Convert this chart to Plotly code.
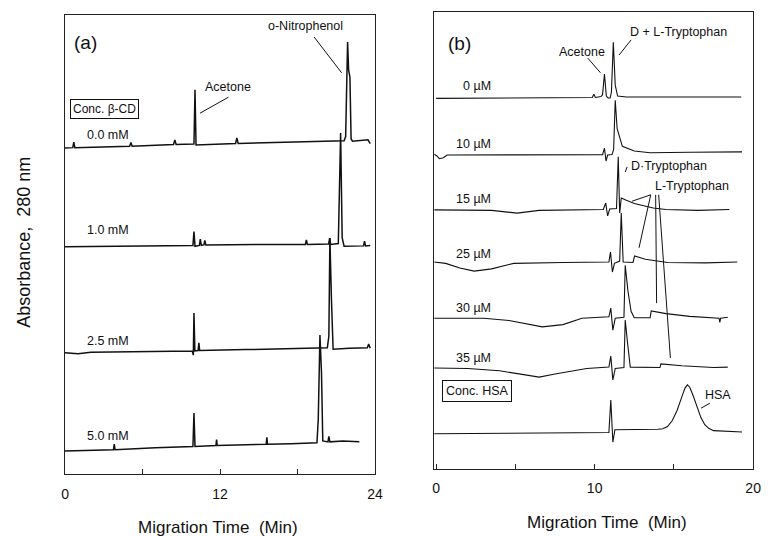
import plotly.graph_objects as go

# ---------------- Panel (a): beta-CD concentration series ----------------
a_labels = ["0.0 mM", "1.0 mM", "2.5 mM", "5.0 mM"]
a_label_y = [73.9, 53.2, 29.0, 8.3]

a_t_00 = [0.0, 0.6, 0.68, 0.76, 5.0, 5.1, 5.2, 8.4, 8.5, 8.6, 9.98, 10.06, 10.14, 13.2, 13.3, 13.4,
          21.6, 21.72, 21.87, 21.95, 22.05, 22.14, 22.25, 23.45, 23.62]
a_y_00 = [71.0, 71.1, 72.3, 71.1, 71.4, 72.2, 71.4, 71.8, 72.8, 71.8, 71.9, 83.7, 71.7, 72.0, 73.2, 72.0,
          72.6, 73.5, 94.1, 88.0, 86.5, 73.0, 72.5, 72.8, 72.0]

a_t_10 = [0.0, 3.0, 6.0, 9.9, 9.98, 10.06, 10.4, 10.47, 10.55, 10.75, 10.82, 10.9, 15.0, 18.6, 18.68, 18.76,
          20.4, 20.48, 20.56, 21.15, 21.33, 21.45, 21.6, 22.5, 23.1, 23.18, 23.26, 23.62]
a_y_10 = [49.5, 49.6, 49.8, 49.8, 52.8, 49.6, 49.8, 51.2, 49.8, 49.9, 50.9, 49.9, 50.0, 50.0, 51.0, 50.0,
          50.1, 51.4, 50.0, 50.2, 74.3, 51.5, 49.6, 49.7, 49.7, 50.7, 49.7, 49.8]

a_t_25 = [0.0, 1.0, 2.0, 5.0, 9.85, 9.93, 9.98, 10.05, 10.3, 10.36, 10.42, 14.0, 18.0, 20.3, 20.42, 20.5,
          20.62, 20.75, 22.0, 23.4, 23.5, 23.62]
a_y_25 = [26.4, 26.2, 26.5, 26.6, 26.8, 25.9, 35.1, 26.8, 26.9, 28.6, 26.9, 27.1, 27.3, 27.5, 30.0, 51.4,
          38.0, 27.2, 27.4, 27.5, 28.3, 27.4]

a_t_50 = [0.0, 2.0, 3.75, 3.81, 3.87, 7.0, 9.9, 9.98, 10.06, 11.68, 11.73, 11.78, 15.57, 15.62, 15.67,
          17.5, 19.5, 19.6, 19.73, 19.85, 19.95, 20.35, 20.42, 20.5, 21.5, 22.78]
a_y_50 = [5.0, 5.1, 5.3, 6.5, 5.3, 5.7, 6.0, 13.3, 6.0, 6.2, 7.5, 6.2, 6.5, 8.0, 6.5,
          6.6, 6.8, 12.0, 30.3, 22.0, 7.2, 7.0, 8.2, 7.0, 7.2, 7.0]

a_times = [a_t_00, a_t_10, a_t_25, a_t_50]
a_vals = [a_y_00, a_y_10, a_y_25, a_y_50]

# ---------------- Panel (b): HSA concentration series ----------------
b_labels = ["0 µM", "10 µM", "15 µM", "25 µM", "30 µM", "35 µM"]
b_label_y = [83.8, 71.1, 59.1, 47.0, 35.2, 24.3]

b_t_0 = [0.0, 5.0, 9.85, 9.95, 10.05, 10.4, 10.5, 10.62, 10.74, 10.85, 10.98, 11.06, 11.18, 11.3,
         11.45, 12.0, 15.0, 19.25]
b_y_0 = [81.1, 81.2, 81.3, 82.0, 81.3, 81.5, 81.9, 86.4, 81.6, 81.2, 81.2, 82.5, 93.4, 84.0,
         81.6, 81.4, 81.4, 81.4]

b_t_1 = [-0.12, 0.05, 0.2, 0.45, 0.7, 5.0, 10.5, 10.62, 10.72, 10.82, 11.1, 11.2, 11.3, 11.42, 11.6,
         11.75, 12.5, 13.5, 16.0, 19.3]
b_y_1 = [68.9, 68.5, 67.9, 68.1, 68.7, 68.7, 68.8, 70.2, 67.4, 68.7, 68.8, 70.0, 80.7, 74.5, 72.0,
         70.6, 69.6, 69.2, 69.3, 69.4]

b_t_2 = [-0.12, 3.5, 5.1, 6.5, 10.55, 10.7, 10.82, 10.95, 11.38, 11.49, 11.58, 11.68, 12.0, 12.5,
         13.7, 14.5, 16.5, 18.5]
b_y_2 = [56.7, 56.6, 56.0, 56.6, 56.8, 58.2, 55.4, 56.9, 57.0, 68.3, 56.0, 59.3, 58.8, 58.1,
         57.1, 56.8, 56.6, 56.8]

b_t_3 = [-0.12, 0.6, 1.5, 2.4, 3.5, 4.9, 8.0, 10.9, 11.0, 11.12, 11.25, 11.58, 11.68, 11.8, 12.42,
         12.52, 13.2, 14.6, 17.0, 19.0]
b_y_3 = [45.3, 45.0, 44.0, 43.3, 43.8, 45.0, 45.2, 45.3, 47.5, 43.1, 45.0, 45.5, 56.0, 45.3, 45.2,
         46.6, 45.9, 45.2, 45.1, 45.3]

b_t_4 = [-0.12, 3.0, 4.6, 6.7, 8.0, 9.2, 10.9, 11.02, 11.15, 11.3, 11.85, 11.93, 12.1, 12.3, 12.5,
         13.5, 13.57, 14.5, 16.0, 17.85, 17.9, 17.95, 18.4]
b_y_4 = [33.0, 33.0, 32.5, 31.1, 31.6, 33.0, 33.3, 35.2, 30.4, 33.0, 33.2, 44.6, 39.0, 34.5, 33.1,
         33.1, 34.6, 34.0, 33.4, 33.0, 32.1, 33.0, 33.2]

b_t_5 = [-0.12, 2.0, 4.0, 6.5, 7.5, 9.5, 10.9, 11.02, 11.15, 11.3, 11.85, 11.93, 12.08, 12.25,
         14.12, 14.18, 15.5, 17.5, 18.4]
b_y_5 = [22.1, 22.0, 21.5, 20.1, 20.8, 22.0, 22.3, 24.7, 19.5, 22.0, 22.2, 32.6, 27.5, 22.3,
         22.2, 23.0, 22.6, 22.2, 22.3]

b_t_6 = [-0.12, 5.0, 10.9, 11.02, 11.15, 11.28, 12.5, 14.0, 14.3, 14.6, 14.9, 15.2, 15.5, 15.7,
         15.85, 16.0, 16.2, 16.45, 16.7, 16.95, 17.2, 17.5, 19.3]
b_y_6 = [7.7, 7.9, 8.0, 15.1, 5.9, 8.6, 8.6, 8.7, 8.8, 9.3, 10.6, 12.8, 15.8, 17.7,
         18.4, 17.9, 16.2, 13.6, 11.3, 9.7, 8.9, 8.4, 8.1]

b_times = [b_t_0, b_t_1, b_t_2, b_t_3, b_t_4, b_t_5, b_t_6]
b_vals = [b_y_0, b_y_1, b_y_2, b_y_3, b_y_4, b_y_5, b_y_6]

a_tickvals = [0, 6, 12, 18, 24]
a_ticktext = ["0", "", "12", "", "24"]
b_tickvals = [0, 5, 10, 15, 20]
b_ticktext = ["0", "", "10", "", "20"]

FONT = "Liberation Sans, Arial, Helvetica, sans-serif"
INK = "#111111"

fig = go.Figure()
for t, y in zip(a_times, a_vals):
    fig.add_trace(go.Scatter(x=t, y=y, mode="lines", xaxis="x", yaxis="y",
                             line=dict(color=INK, width=1.5), showlegend=False, hoverinfo="skip"))
for t, y in zip(b_times, b_vals):
    fig.add_trace(go.Scatter(x=t, y=y, mode="lines", xaxis="x2", yaxis="y2",
                             line=dict(color=INK, width=1.1), showlegend=False, hoverinfo="skip"))

ann = []
def txt(x, y, s, xr, yr, size=12.5, xanchor="center", **kw):
    ann.append(dict(x=x, y=y, xref=xr, yref=yr, text=s, showarrow=False, xanchor=xanchor,
                    yanchor="middle", font=dict(family=FONT, size=size, color=INK), **kw))

# panel a texts
txt(1.6, 94.1, "(a)", "x", "y", size=19)
txt(18.59, 97.6, "o-Nitrophenol", "x", "y")
txt(12.65, 84.3, "Acetone", "x", "y")
txt(3.09, 79.5, "Conc. β-CD", "x", "y", size=12, bordercolor=INK, borderwidth=1, borderpad=2,
    bgcolor="white")
for s, yv in zip(a_labels, a_label_y):
    txt(1.52, yv, s, "x", "y", size=12.5, xanchor="left")

# panel b texts
txt(1.49, 93.2, "(b)", "x2", "y2", size=19)
txt(9.19, 91.2, "Acetone", "x2", "y2")
txt(15.28, 95.6, "D + L-Tryptophan", "x2", "y2")
txt(12.17, 66.3, "D·Tryptophan", "x2", "y2", xanchor="left")
txt(13.66, 61.9, "L-Tryptophan", "x2", "y2", xanchor="left")
txt(17.76, 16.2, "HSA", "x2", "y2")
txt(2.61, 17.0, "Conc. HSA", "x2", "y2", size=12.5, bordercolor=INK, borderwidth=1, borderpad=3,
    bgcolor="white")
for s, yv in zip(b_labels, b_label_y):
    txt(3.6, yv, s, "x2", "y2", size=12.5, xanchor="right")

# axis titles
txt(0.026, 0.504, "Absorbance,  280 nm", "paper", "paper", size=18, textangle=-90)
txt(0.282, -0.105, "Migration Time  (Min)", "paper", "paper", size=17)
txt(0.795, -0.095, "Migration Time  (Min)", "paper", "paper", size=17)

shapes = []
def seg(x0, y0, x1, y1, xr, yr):
    shapes.append(dict(type="line", x0=x0, y0=y0, x1=x1, y1=y1, xref=xr, yref=yr,
                       line=dict(color=INK, width=1)))

seg(19.28, 95.2, 21.41, 87.4, "x", "y")
seg(12.65, 82.1, 10.44, 78.6, "x", "y")
seg(9.57, 89.9, 10.37, 86.7, "x2", "y2")
seg(12.3, 93.9, 11.55, 90.6, "x2", "y2")
seg(12.05, 66.1, 11.93, 65.0, "x2", "y2")
seg(13.54, 60.0, 12.36, 58.6, "x2", "y2")
seg(13.54, 60.0, 12.8, 48.4, "x2", "y2")
seg(13.85, 60.0, 13.91, 36.3, "x2", "y2")
seg(14.04, 60.0, 14.78, 24.3, "x2", "y2")
seg(17.27, 14.4, 16.71, 13.3, "x2", "y2")

axis_common = dict(showline=True, mirror=True, linecolor="#222", linewidth=1, showgrid=False,
                   zeroline=False)
fig.update_layout(
    width=770, height=536, margin=dict(l=0, r=0, t=10, b=58),
    paper_bgcolor="white", plot_bgcolor="white",
    xaxis=dict(domain=[0.0805, 0.4896], range=[0, 24], anchor="y", tickvals=a_tickvals,
               ticktext=a_ticktext, ticks="inside", ticklen=5, tickcolor="#222",
               tickfont=dict(family=FONT, size=14, color=INK), ticklabelstandoff=7, **axis_common),
    yaxis=dict(domain=[0.00855, 0.9893], range=[0, 100], anchor="x", showticklabels=False,
               ticks="", **axis_common),
    xaxis2=dict(domain=[0.5675, 0.9883], range=[-0.124, 20.0], anchor="y2", tickvals=b_tickvals,
                ticktext=b_ticktext, ticks="inside", ticklen=5, tickcolor="#222",
                tickfont=dict(family=FONT, size=14, color=INK), ticklabelstandoff=6, **axis_common),
    yaxis2=dict(domain=[0.0192, 0.9957], range=[0, 100], anchor="x2", showticklabels=False,
                ticks="", **axis_common),
    annotations=ann, shapes=shapes,
)

fig.write_html("out.html")
